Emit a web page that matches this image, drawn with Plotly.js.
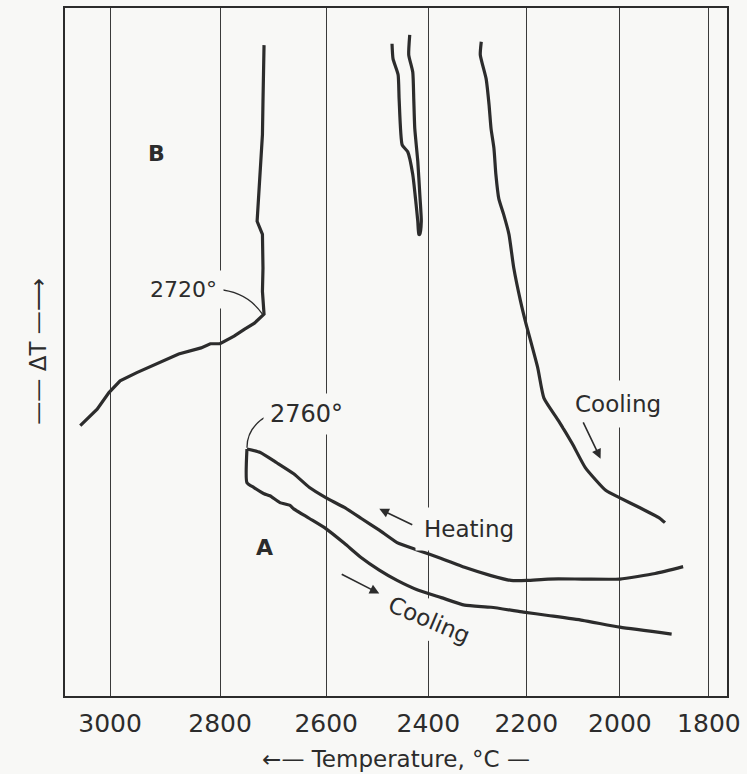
<!DOCTYPE html>
<html>
<head>
<meta charset="utf-8">
<script src="https://cdn.plot.ly/plotly-3.0.1.min.js"></script>
<style>html,body{margin:0;padding:0;background:#f8f8f6;}#chart{width:747px;height:774px;}</style>
</head>
<body>
<div id="chart"></div>
<script>
// ---- data (temperature in °C, ΔT in arbitrary units) ----
const tickTemps = [3000, 2800, 2600, 2400, 2200, 2000, 1800];
const tickLabels = ['3000', '2800', '2600', '2400', '2200', '2000', '1800'];

// Curve B (melting-point run)
const bTemp = [3053, 3023, 3002, 2982, 2952, 2917, 2876, 2835, 2818, 2800, 2774, 2755, 2736, 2718,
               2721, 2720, 2721, 2731, 2729, 2725, 2721, 2720, 2718, 2718];
const bDT   = [39.3, 41.7, 44.1, 45.8, 47.0, 48.3, 49.7, 50.6, 51.2, 51.2, 52.3, 53.3, 54.2, 55.5,
               58.8, 62.2, 67.1, 69.0, 71.9, 76.7, 81.6, 86.4, 91.2, 94.6];

// Narrow V trace near 2420-2470
const vTemp = [2472, 2470, 2460, 2458, 2452, 2441, 2431, 2425, 2421, 2419,
               2417, 2414, 2417, 2421, 2427, 2429, 2431, 2439, 2437];
const vDT   = [94.8, 92.6, 90.3, 86.8, 80.1, 79.1, 75.8, 71.9, 69.0, 67.1,
               67.1, 69.0, 72.9, 77.7, 82.5, 86.8, 90.7, 93.2, 96.1];

// Upper cooling trace (right)
const cTemp = [2293, 2295, 2283, 2277, 2273, 2267, 2263, 2257, 2247, 2236, 2226, 2212, 2202,
               2176, 2163, 2132, 2103, 2075, 2031, 2000, 1957, 1913, 1900];
const cDT   = [95.1, 93.2, 89.7, 85.9, 82.5, 79.6, 75.8, 72.3, 70.0, 67.1, 62.2, 57.4, 54.5,
               47.7, 43.3, 40.0, 36.7, 33.2, 29.9, 28.8, 27.4, 25.9, 25.2];

// Curve A, heating
const hTemp = [2750, 2725, 2694, 2662, 2632, 2600, 2565, 2532, 2497, 2462, 2421, 2374, 2327,
               2273, 2232, 2198, 2154, 2081, 2000, 1922, 1859];
const hDT   = [35.9, 35.4, 33.9, 32.3, 30.3, 28.8, 27.4, 25.8, 24.1, 22.3, 21.2, 20.0, 18.7,
               17.5, 16.8, 16.8, 17.0, 17.0, 17.0, 17.8, 18.8];

// Curve A, cooling
const aTemp = [2750, 2750, 2737, 2718, 2707, 2688, 2669, 2662, 2632, 2600, 2565, 2532, 2497,
               2462, 2421, 2374, 2327, 2273, 2206, 2154, 2081, 2000, 1885];
const aDT   = [35.9, 31.0, 30.3, 29.4, 29.1, 28.1, 27.7, 27.2, 25.8, 24.3, 22.2, 20.1, 18.3,
               16.8, 15.4, 14.3, 13.2, 12.9, 12.2, 11.7, 11.0, 10.0, 9.0];

// ---- temperature scale of the original recorder (compressed toward low T) ----
const sx = t => Math.pow(t, 1.5);

const ink = '#2c2c2c';
const bg = '#f8f8f6';
const font = 'DejaVu Sans, sans-serif';

function curve(t, d, shape) {
  return {x: t.map(sx), y: d, type: 'scatter', mode: 'lines',
          line: {color: ink, width: 3.2, shape: shape || 'spline', smoothing: 0.5},
          hoverinfo: 'skip', showlegend: false};
}

const traces = [curve(bTemp, bDT, 'linear'), curve(vTemp, vDT), curve(cTemp, cDT),
                curve(hTemp, hDT), curve(aTemp, aDT)];

function label(t, d, text, size, extra) {
  return Object.assign({x: sx(t), y: d, xref: 'x', yref: 'y', text: text, showarrow: false,
    font: {family: font, size: size, color: ink}, bgcolor: bg, borderpad: 4}, extra || {});
}
function arrow(t0, d0, t1, d1) {
  return {x: sx(t1), y: d1, ax: sx(t0), ay: d0, xref: 'x', yref: 'y', axref: 'x', ayref: 'y',
    text: '', showarrow: true, arrowhead: 2, arrowsize: 1.2, arrowwidth: 1.6, arrowcolor: ink};
}

const annotations = [
  label(2917, 78.8, '<b>B</b>', 22),
  label(2868, 59.1, '2720°', 22, {borderpad: 6}),
  label(2637, 41.0, '2760°', 24, {borderpad: 6}),
  label(2718, 21.6, '<b>A</b>', 22),
  label(2317, 24.3, 'Heating', 23, {borderpad: 8}),
  label(2398, 11.0, 'Cooling', 23, {textangle: 23, borderpad: 6}),
  label(2004, 42.5, 'Cooling', 23, {borderpad: 10}),
  arrow(2081, 40.0, 2042, 34.5),
  arrow(2429, 24.8, 2497, 27.2),
  arrow(2573, 17.8, 2497, 14.9),
  {x: -0.064, y: 0.50, xref: 'paper', yref: 'paper', text: '—— ΔT —⟶', textangle: -90,
   showarrow: false, font: {family: font, size: 23, color: ink}},
];

const leader = (p0, c, p1) => ({type: 'path', xref: 'x', yref: 'y',
  path: `M ${sx(p0[0])},${p0[1]} Q ${sx(c[0])},${c[1]} ${sx(p1[0])},${p1[1]}`,
  line: {color: ink, width: 1.3}});

const layout = {
  width: 747, height: 774,
  margin: {l: 65, r: 20, t: 8, b: 78},
  paper_bgcolor: bg, plot_bgcolor: bg,
  font: {family: font, color: ink},
  xaxis: {
    range: [sx(3080), sx(1758)], tickvals: tickTemps.map(sx), ticktext: tickLabels,
    showgrid: true, gridcolor: '#3a3a3a', gridwidth: 1, zeroline: false,
    showline: true, linecolor: ink, linewidth: 2, mirror: true,
    ticks: '', ticklabelstandoff: 4,
    tickfont: {family: font, size: 25, color: ink},
    title: {text: '←— Temperature, °C —', font: {family: font, size: 23, color: ink}, standoff: 14}
  },
  yaxis: {
    range: [0, 100], showticklabels: false, ticks: '', showgrid: false, zeroline: false,
    showline: true, linecolor: ink, linewidth: 2, mirror: true
  },
  annotations: annotations,
  shapes: [
    leader([2805, 59.1], [2750, 58.8], [2721, 55.5]),
    leader([2705, 41.0], [2750, 39.3], [2750, 36.1])
  ]
};

Plotly.newPlot('chart', traces, layout, {staticPlot: true, displayModeBar: false});
</script>
</body>
</html>
